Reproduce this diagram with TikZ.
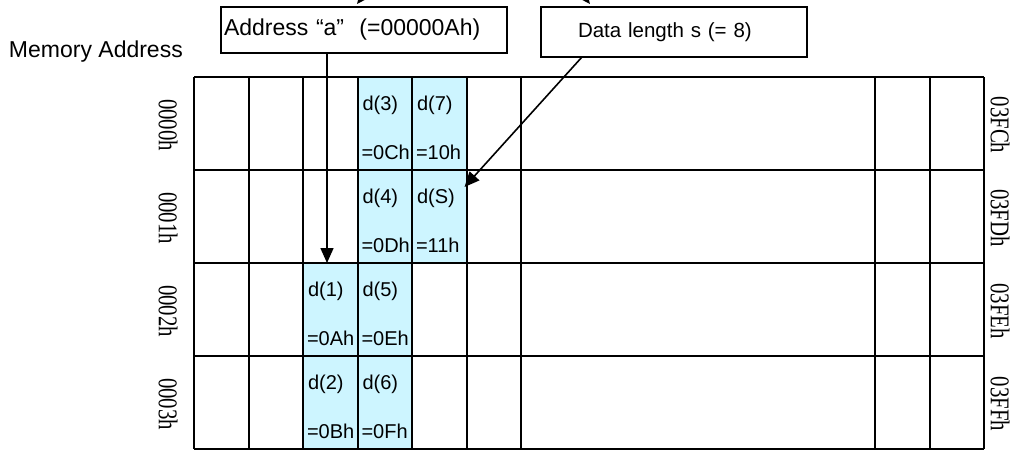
\documentclass[tikz,border=0pt]{standalone}
\usepackage{fontspec}
\setmainfont{Liberation Sans}
\newfontfamily\hexfont{Liberation Serif}
\usetikzlibrary{arrows.meta,calc}
\definecolor{dcyan}{RGB}{205,245,255}
\newcommand{\tall}[1]{\scalebox{1}[1.3]{#1}}
\begin{document}
\begin{tikzpicture}[x=0.5pt,y=-0.5pt,inner sep=0pt,outer sep=0pt,
memcell/.style={fill=dcyan,minimum width=27.25pt,minimum height=46.5pt},
celltext/.style={anchor=west,font=\fontsize{10}{12}\selectfont},
hexlabel/.style={rotate=-90,font=\hexfont\fontsize{10.4}{12}\selectfont},
infobox/.style={draw,line width=1pt,align=left,anchor=north west},
pointer/.style={-{Triangle[length=7.5pt,width=6.5pt]},line width=0.8pt}]
\useasboundingbox (0,0) rectangle (1013,450);
\clip (0,0) rectangle (1013,450);
\foreach \c/\r/\a/\b in {3/0/3/0C,4/0/7/10,3/1/4/0D,4/1/S/11,2/2/1/0A,3/2/5/0E,2/3/2/0B,3/3/6/0F}{
  \node[memcell] (c\c\r) at ({221.25+54.5*\c},{123.5+93*\r}) {};
  \node[celltext] at ($(c\c\r.north west)+(5,28)$) {d(\a)};
  \node[celltext] at ($(c\c\r.north west)+(4,75)$) {=\b h};
}
\foreach \y in {77,170,263,356,449} \draw[line width=1pt] (194,\y) -- (984,\y);
\foreach \x in {194,248.5,303,357.5,412,466.5,521,875,929.5,984} \draw[line width=1pt] (\x,77) -- (\x,449);
\foreach \r/\l/\m in {0/0000h/03FCh,1/0001h/03FDh,2/0002h/03FEh,3/0003h/03FFh}{
  \node[hexlabel] (l\r) at (168,{125+93*\r}) {\tall{\l}};
  \node[hexlabel] (r\r) at (1000,{125+93*\r}) {\tall{\m}};
}
\node[anchor=base west,font=\fontsize{11.5}{13}\selectfont] (memaddr) at (9,57) {Memory Address};
\node[infobox,inner xsep=1.5pt,text width=140pt,minimum height=23pt,font=\fontsize{11.5}{13}\selectfont] (addr) at (221,7) {Address “a”\ \ (=00000Ah)};
\node[infobox,inner xsep=18.5pt,text width=96pt,minimum height=25pt,font=\fontsize{10.25}{12}\selectfont] (dlen) at (541,7) {Data length s (= 8)};
\coordinate (aptr) at ($(c22.north west)+(24,0)$);
\coordinate (sptr) at ($(c41.north east)+(-2,17)$);
\coordinate (atop) at ($(addr.north west)+(136,-3)$);
\coordinate (afrom) at (380,-25);
\coordinate (stop) at ($(dlen.north west)+(49,-3)$);
\coordinate (sfrom) at (567,-25);
\draw[pointer] (addr.south -| aptr) -- (aptr);
\draw[pointer] ($(dlen.south west)+(41,0)$) -- (sptr);
\draw[pointer] (afrom) -- (atop);
\draw[pointer] (sfrom) -- (stop);
\end{tikzpicture}
\end{document}
